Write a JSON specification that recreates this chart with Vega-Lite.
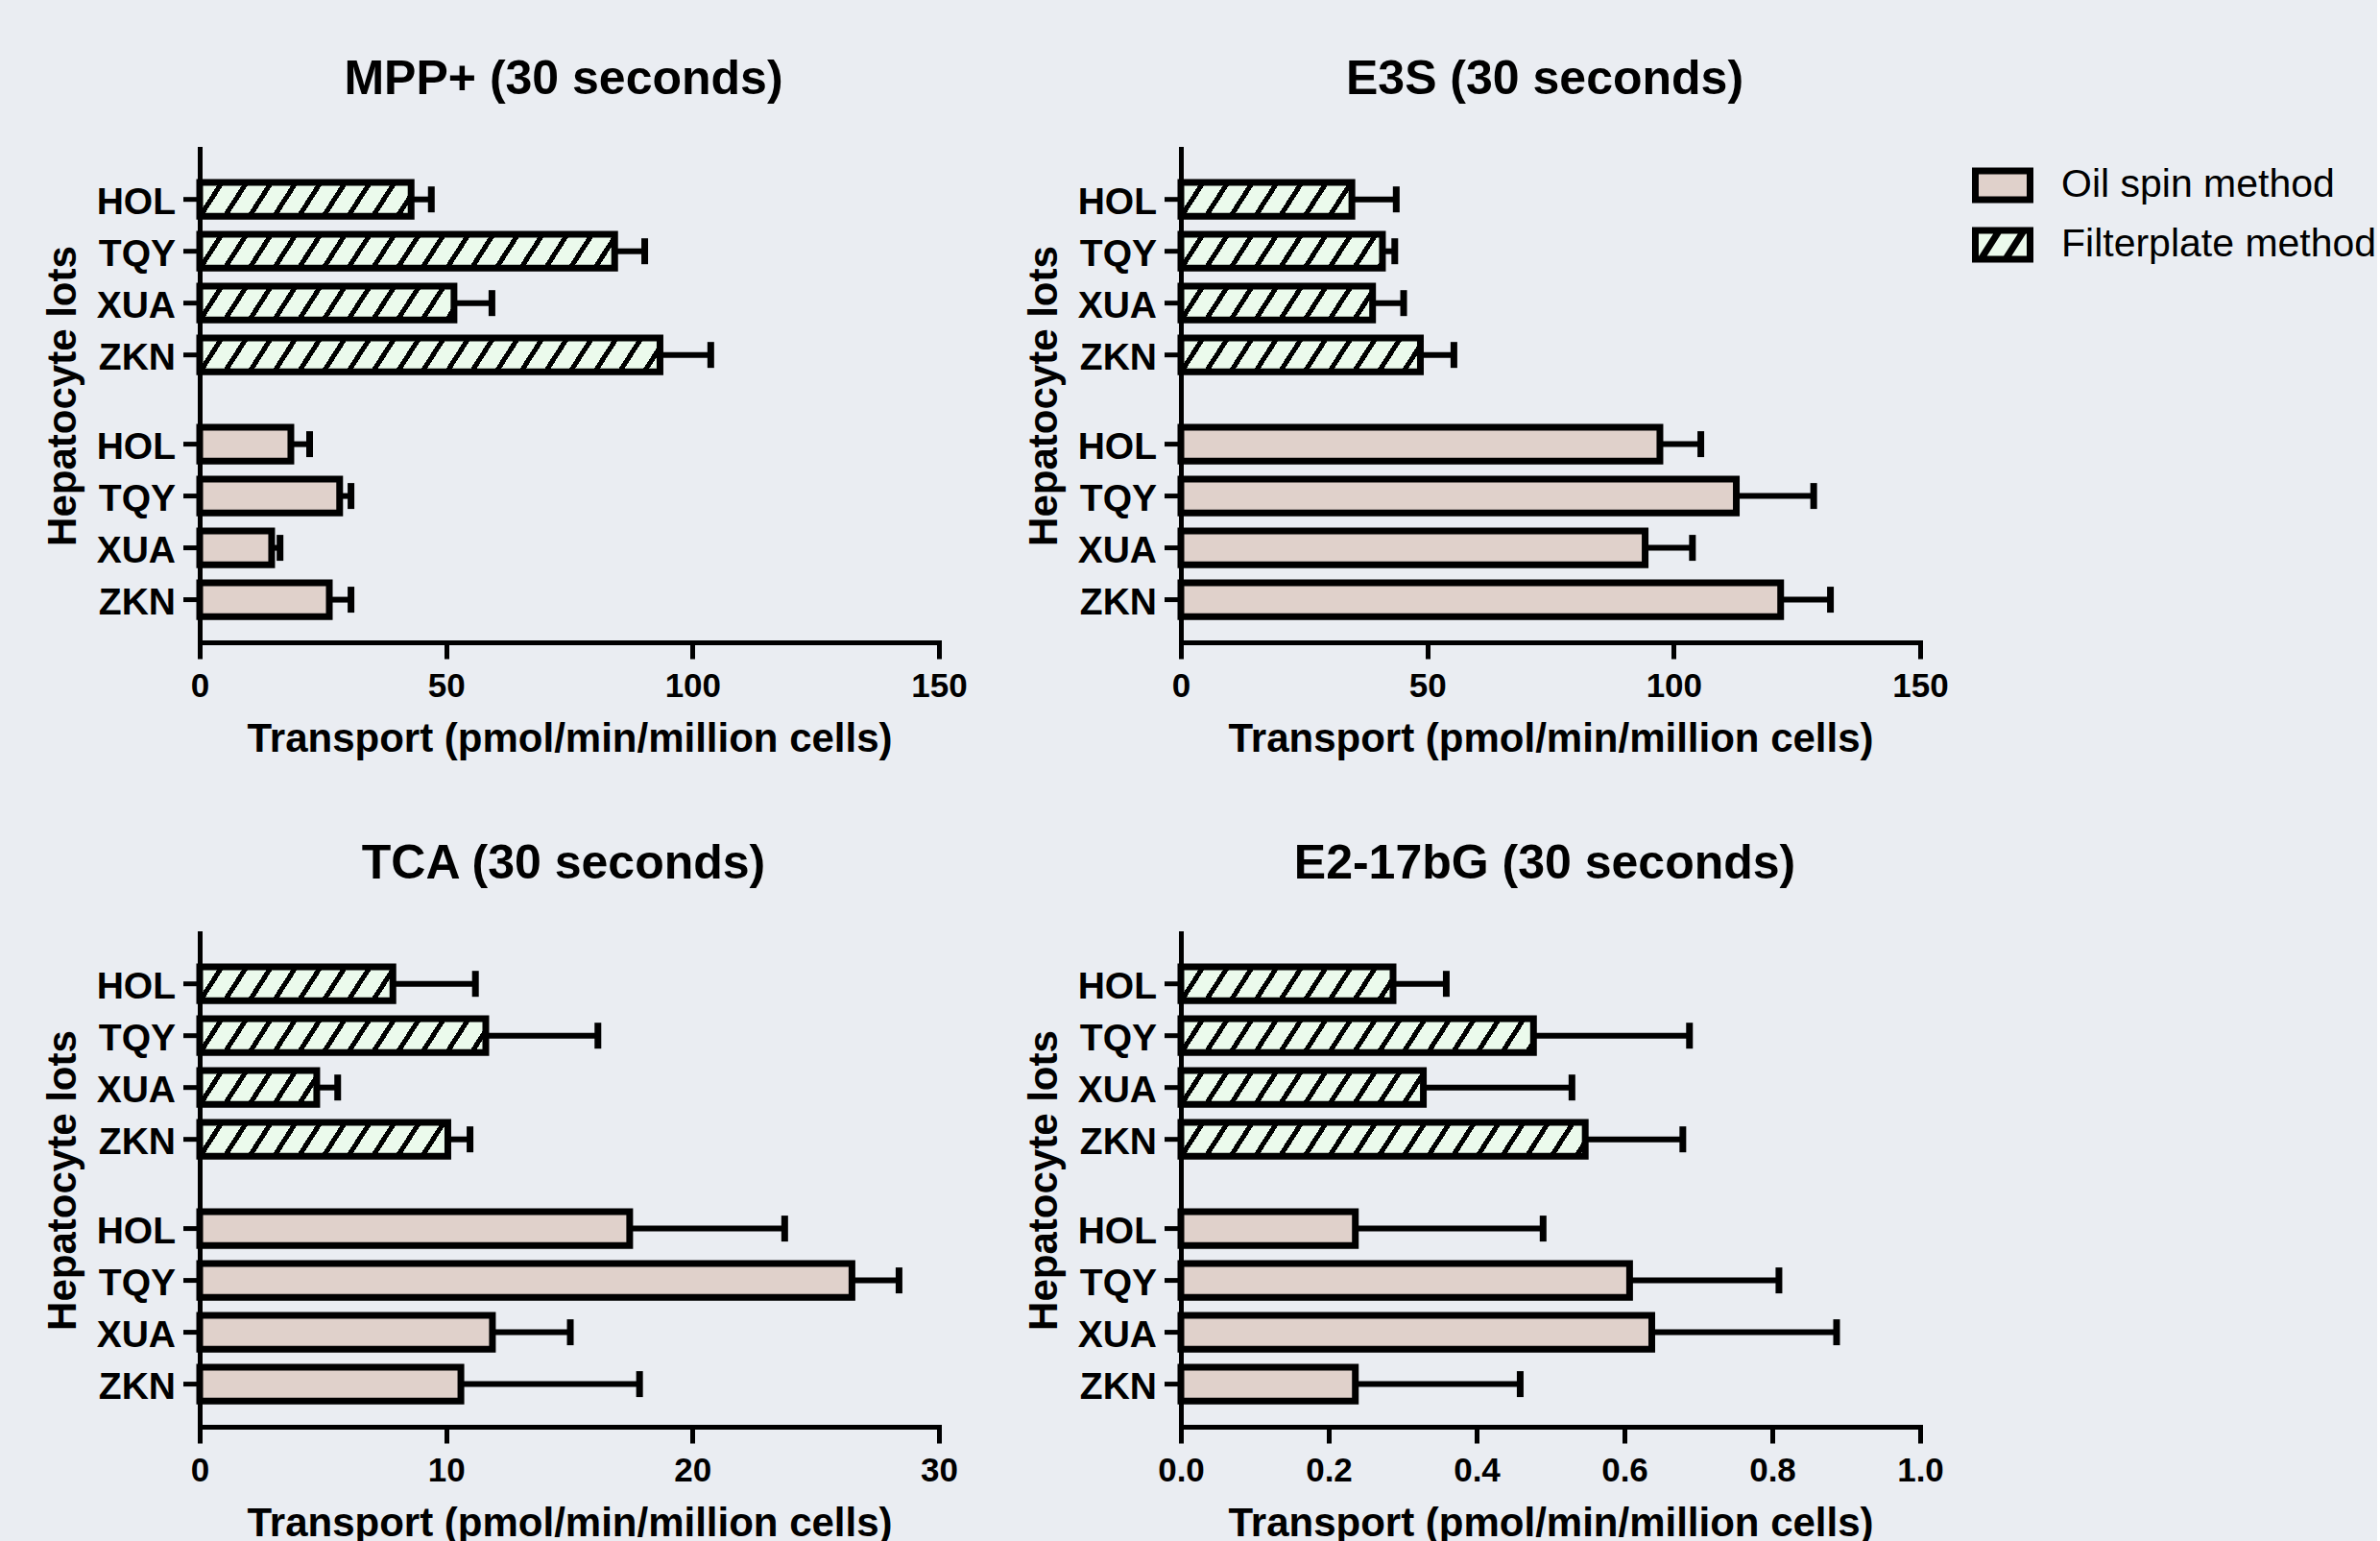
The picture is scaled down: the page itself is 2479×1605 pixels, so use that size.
{
"$schema":"https://vega.github.io/schema/vega-lite/v6.json",
"background":"#eaedf2",
"padding":{"left":44,"top":58,"right":0,"bottom":0},
"data":{"values":[
{"panel":"MPP+","method":"Filterplate method","lot":"HOL","value":42.9,"hi":47.0},
{"panel":"MPP+","method":"Filterplate method","lot":"TQY","value":84.2,"hi":90.3},
{"panel":"MPP+","method":"Filterplate method","lot":"XUA","value":51.6,"hi":59.3},
{"panel":"MPP+","method":"Filterplate method","lot":"ZKN","value":93.4,"hi":103.7},
{"panel":"MPP+","method":"Oil spin method","lot":"HOL","value":18.5,"hi":22.3},
{"panel":"MPP+","method":"Oil spin method","lot":"TQY","value":28.4,"hi":30.7},
{"panel":"MPP+","method":"Oil spin method","lot":"XUA","value":14.6,"hi":16.3},
{"panel":"MPP+","method":"Oil spin method","lot":"ZKN","value":26.3,"hi":30.7},
{"panel":"E3S","method":"Filterplate method","lot":"HOL","value":34.7,"hi":43.7},
{"panel":"E3S","method":"Filterplate method","lot":"TQY","value":40.9,"hi":43.4},
{"panel":"E3S","method":"Filterplate method","lot":"XUA","value":38.9,"hi":45.2},
{"panel":"E3S","method":"Filterplate method","lot":"ZKN","value":48.6,"hi":55.4},
{"panel":"E3S","method":"Oil spin method","lot":"HOL","value":97.2,"hi":105.5},
{"panel":"E3S","method":"Oil spin method","lot":"TQY","value":112.7,"hi":128.4},
{"panel":"E3S","method":"Oil spin method","lot":"XUA","value":94.2,"hi":103.8},
{"panel":"E3S","method":"Oil spin method","lot":"ZKN","value":121.7,"hi":131.8},
{"panel":"TCA","method":"Filterplate method","lot":"HOL","value":7.84,"hi":11.19},
{"panel":"TCA","method":"Filterplate method","lot":"TQY","value":11.61,"hi":16.16},
{"panel":"TCA","method":"Filterplate method","lot":"XUA","value":4.75,"hi":5.6},
{"panel":"TCA","method":"Filterplate method","lot":"ZKN","value":10.07,"hi":10.97},
{"panel":"TCA","method":"Oil spin method","lot":"HOL","value":17.45,"hi":23.74},
{"panel":"TCA","method":"Oil spin method","lot":"TQY","value":26.47,"hi":28.38},
{"panel":"TCA","method":"Oil spin method","lot":"XUA","value":11.88,"hi":15.04},
{"panel":"TCA","method":"Oil spin method","lot":"ZKN","value":10.6,"hi":17.85},
{"panel":"E2-17bG","method":"Filterplate method","lot":"HOL","value":0.287,"hi":0.359},
{"panel":"E2-17bG","method":"Filterplate method","lot":"TQY","value":0.477,"hi":0.688},
{"panel":"E2-17bG","method":"Filterplate method","lot":"XUA","value":0.328,"hi":0.529},
{"panel":"E2-17bG","method":"Filterplate method","lot":"ZKN","value":0.547,"hi":0.679},
{"panel":"E2-17bG","method":"Oil spin method","lot":"HOL","value":0.236,"hi":0.49},
{"panel":"E2-17bG","method":"Oil spin method","lot":"TQY","value":0.607,"hi":0.809},
{"panel":"E2-17bG","method":"Oil spin method","lot":"XUA","value":0.637,"hi":0.887},
{"panel":"E2-17bG","method":"Oil spin method","lot":"ZKN","value":0.236,"hi":0.459}
]},
"columns":2,
"spacing":{"row":303,"column":252},
"bounds":"flush",
"resolve":{"scale":{"fill":"shared","shape":"shared"},"legend":{"fill":"shared","shape":"shared"}},
"concat":[
{
"width":770,"height":514,
"title":"MPP+ (30 seconds)",
"transform":[{"filter":"datum.panel === 'MPP+'"}],
"encoding":{
"y":{"field":"method","type":"nominal","scale":{"domain":["Filterplate method","Oil spin method"],"paddingInner":0.226,"paddingOuter":0.1212,"align":0.567},"axis":{"title":"Hepatocyte lots"}},
"yOffset":{"field":"lot","type":"nominal","scale":{"domain":["HOL","TQY","XUA","ZKN"],"paddingInner":0.346,"paddingOuter":0}}
},
"layer":[
{"mark":{"type":"bar"},"encoding":{"x":{"field":"value","type":"quantitative","stack":null,"scale":{"domain":[0,150],"nice":false},"axis":{"values":[0,50,100,150],"title":"Transport (pmol/min/million cells)"}},"fill":{"field":"method","type":"nominal","scale":{"domain":["Oil spin method","Filterplate method"],"range":["#e0d1cb","#ebfaec"]},"legend":{"title":null,"symbolStrokeColor":"#000","encode":{"symbols":{"update":{"stroke":{"value":"#000"},"strokeWidth":{"value":7},"opacity":{"value":1}}}}}}}},
{"transform":[{"filter":"datum.method === 'Filterplate method'"}],"mark":{"type":"bar","strokeWidth":0,"fill":{"gradient":"linear","x1":0,"y1":0,"x2":1,"y2":0.0296,"stops":[{"offset":0,"color":"rgba(0,0,0,0)"},{"offset":0.0262,"color":"rgba(0,0,0,0)"},{"offset":0.0262,"color":"#000"},{"offset":0.034,"color":"#000"},{"offset":0.034,"color":"rgba(0,0,0,0)"},{"offset":0.0595,"color":"rgba(0,0,0,0)"},{"offset":0.0595,"color":"#000"},{"offset":0.0673,"color":"#000"},{"offset":0.0673,"color":"rgba(0,0,0,0)"},{"offset":0.0929,"color":"rgba(0,0,0,0)"},{"offset":0.0929,"color":"#000"},{"offset":0.1007,"color":"#000"},{"offset":0.1007,"color":"rgba(0,0,0,0)"},{"offset":0.1262,"color":"rgba(0,0,0,0)"},{"offset":0.1262,"color":"#000"},{"offset":0.134,"color":"#000"},{"offset":0.134,"color":"rgba(0,0,0,0)"},{"offset":0.1596,"color":"rgba(0,0,0,0)"},{"offset":0.1596,"color":"#000"},{"offset":0.1674,"color":"#000"},{"offset":0.1674,"color":"rgba(0,0,0,0)"},{"offset":0.1929,"color":"rgba(0,0,0,0)"},{"offset":0.1929,"color":"#000"},{"offset":0.2007,"color":"#000"},{"offset":0.2007,"color":"rgba(0,0,0,0)"},{"offset":0.2263,"color":"rgba(0,0,0,0)"},{"offset":0.2263,"color":"#000"},{"offset":0.2341,"color":"#000"},{"offset":0.2341,"color":"rgba(0,0,0,0)"},{"offset":0.2596,"color":"rgba(0,0,0,0)"},{"offset":0.2596,"color":"#000"},{"offset":0.2674,"color":"#000"},{"offset":0.2674,"color":"rgba(0,0,0,0)"},{"offset":0.293,"color":"rgba(0,0,0,0)"},{"offset":0.293,"color":"#000"},{"offset":0.3008,"color":"#000"},{"offset":0.3008,"color":"rgba(0,0,0,0)"},{"offset":0.3263,"color":"rgba(0,0,0,0)"},{"offset":0.3263,"color":"#000"},{"offset":0.3341,"color":"#000"},{"offset":0.3341,"color":"rgba(0,0,0,0)"},{"offset":0.3597,"color":"rgba(0,0,0,0)"},{"offset":0.3597,"color":"#000"},{"offset":0.3675,"color":"#000"},{"offset":0.3675,"color":"rgba(0,0,0,0)"},{"offset":0.393,"color":"rgba(0,0,0,0)"},{"offset":0.393,"color":"#000"},{"offset":0.4008,"color":"#000"},{"offset":0.4008,"color":"rgba(0,0,0,0)"},{"offset":0.4264,"color":"rgba(0,0,0,0)"},{"offset":0.4264,"color":"#000"},{"offset":0.4342,"color":"#000"},{"offset":0.4342,"color":"rgba(0,0,0,0)"},{"offset":0.4597,"color":"rgba(0,0,0,0)"},{"offset":0.4597,"color":"#000"},{"offset":0.4675,"color":"#000"},{"offset":0.4675,"color":"rgba(0,0,0,0)"},{"offset":0.493,"color":"rgba(0,0,0,0)"},{"offset":0.493,"color":"#000"},{"offset":0.5008,"color":"#000"},{"offset":0.5008,"color":"rgba(0,0,0,0)"},{"offset":0.5264,"color":"rgba(0,0,0,0)"},{"offset":0.5264,"color":"#000"},{"offset":0.5342,"color":"#000"},{"offset":0.5342,"color":"rgba(0,0,0,0)"},{"offset":0.5597,"color":"rgba(0,0,0,0)"},{"offset":0.5597,"color":"#000"},{"offset":0.5675,"color":"#000"},{"offset":0.5675,"color":"rgba(0,0,0,0)"},{"offset":0.5931,"color":"rgba(0,0,0,0)"},{"offset":0.5931,"color":"#000"},{"offset":0.6009,"color":"#000"},{"offset":0.6009,"color":"rgba(0,0,0,0)"},{"offset":0.6264,"color":"rgba(0,0,0,0)"},{"offset":0.6264,"color":"#000"},{"offset":0.6342,"color":"#000"},{"offset":0.6342,"color":"rgba(0,0,0,0)"},{"offset":0.6598,"color":"rgba(0,0,0,0)"},{"offset":0.6598,"color":"#000"},{"offset":0.6676,"color":"#000"},{"offset":0.6676,"color":"rgba(0,0,0,0)"},{"offset":0.6931,"color":"rgba(0,0,0,0)"},{"offset":0.6931,"color":"#000"},{"offset":0.7009,"color":"#000"},{"offset":0.7009,"color":"rgba(0,0,0,0)"},{"offset":0.7265,"color":"rgba(0,0,0,0)"},{"offset":0.7265,"color":"#000"},{"offset":0.7343,"color":"#000"},{"offset":0.7343,"color":"rgba(0,0,0,0)"},{"offset":0.7598,"color":"rgba(0,0,0,0)"},{"offset":0.7598,"color":"#000"},{"offset":0.7676,"color":"#000"},{"offset":0.7676,"color":"rgba(0,0,0,0)"},{"offset":0.7932,"color":"rgba(0,0,0,0)"},{"offset":0.7932,"color":"#000"},{"offset":0.801,"color":"#000"},{"offset":0.801,"color":"rgba(0,0,0,0)"},{"offset":0.8265,"color":"rgba(0,0,0,0)"},{"offset":0.8265,"color":"#000"},{"offset":0.8343,"color":"#000"},{"offset":0.8343,"color":"rgba(0,0,0,0)"},{"offset":0.8599,"color":"rgba(0,0,0,0)"},{"offset":0.8599,"color":"#000"},{"offset":0.8677,"color":"#000"},{"offset":0.8677,"color":"rgba(0,0,0,0)"},{"offset":0.8932,"color":"rgba(0,0,0,0)"},{"offset":0.8932,"color":"#000"},{"offset":0.901,"color":"#000"},{"offset":0.901,"color":"rgba(0,0,0,0)"},{"offset":0.9265,"color":"rgba(0,0,0,0)"},{"offset":0.9265,"color":"#000"},{"offset":0.9343,"color":"#000"},{"offset":0.9343,"color":"rgba(0,0,0,0)"},{"offset":0.9599,"color":"rgba(0,0,0,0)"},{"offset":0.9599,"color":"#000"},{"offset":0.9677,"color":"#000"},{"offset":0.9677,"color":"rgba(0,0,0,0)"},{"offset":0.9932,"color":"rgba(0,0,0,0)"},{"offset":0.9932,"color":"#000"},{"offset":1,"color":"#000"}]}},"encoding":{"x":{"datum":0,"type":"quantitative"},"x2":{"datum":150}}},
{"transform":[{"filter":"datum.method === 'Filterplate method'"}],"mark":{"type":"bar","fill":"#eaedf2","stroke":"#eaedf2","strokeWidth":2},"encoding":{"x":{"field":"value","type":"quantitative"},"x2":{"datum":150}}},
{"mark":{"type":"bar","fillOpacity":0,"stroke":"#000","strokeWidth":7,"strokeJoin":"miter"},"encoding":{"x":{"field":"value","type":"quantitative","stack":null}}},
{"mark":{"type":"rule","color":"#000","strokeWidth":6},"encoding":{"x":{"field":"value","type":"quantitative"},"x2":{"field":"hi"}}},
{"mark":{"type":"tick","color":"#000","opacity":1,"thickness":7,"size":27},"encoding":{"x":{"field":"hi","type":"quantitative"}}},
{"transform":[{"filter":"datum.value < 0"}],"mark":{"type":"point","filled":true,"stroke":"#000","strokeWidth":7,"opacity":1},"encoding":{"x":{"field":"value","type":"quantitative"},"fill":{"field":"method","type":"nominal","legend":{"title":null,"symbolStrokeColor":"#000","encode":{"symbols":{"update":{"stroke":{"value":"#000"},"strokeWidth":{"value":7},"opacity":{"value":1}}}}}},"shape":{"field":"method","type":"nominal","scale":{"domain":["Oil spin method","Filterplate method"],"range":["M-1,-0.53H1V0.53H-1Z","M-1,-0.53H1V0.53H-1Z M-0.8,0.53L-0.12,-0.53 M0.1,0.53L0.78,-0.53"]},"legend":{"title":null,"symbolStrokeColor":"#000","encode":{"symbols":{"update":{"stroke":{"value":"#000"},"strokeWidth":{"value":7},"opacity":{"value":1}}}}}}}},
{"mark":{"type":"text","align":"right","baseline":"middle","dx":-25,"dy":3,"fontSize":39,"fontWeight":"bold","color":"#000"},"encoding":{"x":{"datum":0,"type":"quantitative"},"text":{"field":"lot","type":"nominal"}}},
{"mark":{"type":"rule","color":"#000","strokeWidth":5,"xOffset":-17},"encoding":{"x":{"datum":0,"type":"quantitative"},"x2":{"datum":0}}}
]
},
{
"width":770,"height":514,
"title":"E3S (30 seconds)",
"transform":[{"filter":"datum.panel === 'E3S'"}],
"encoding":{
"y":{"field":"method","type":"nominal","scale":{"domain":["Filterplate method","Oil spin method"],"paddingInner":0.226,"paddingOuter":0.1212,"align":0.567},"axis":{"title":"Hepatocyte lots"}},
"yOffset":{"field":"lot","type":"nominal","scale":{"domain":["HOL","TQY","XUA","ZKN"],"paddingInner":0.346,"paddingOuter":0}}
},
"layer":[
{"mark":{"type":"bar"},"encoding":{"x":{"field":"value","type":"quantitative","stack":null,"scale":{"domain":[0,150],"nice":false},"axis":{"values":[0,50,100,150],"title":"Transport (pmol/min/million cells)"}},"fill":{"field":"method","type":"nominal","scale":{"domain":["Oil spin method","Filterplate method"],"range":["#e0d1cb","#ebfaec"]},"legend":{"title":null,"symbolStrokeColor":"#000","encode":{"symbols":{"update":{"stroke":{"value":"#000"},"strokeWidth":{"value":7},"opacity":{"value":1}}}}}}}},
{"transform":[{"filter":"datum.method === 'Filterplate method'"}],"mark":{"type":"bar","strokeWidth":0,"fill":{"gradient":"linear","x1":0,"y1":0,"x2":1,"y2":0.0296,"stops":[{"offset":0,"color":"rgba(0,0,0,0)"},{"offset":0.0262,"color":"rgba(0,0,0,0)"},{"offset":0.0262,"color":"#000"},{"offset":0.034,"color":"#000"},{"offset":0.034,"color":"rgba(0,0,0,0)"},{"offset":0.0595,"color":"rgba(0,0,0,0)"},{"offset":0.0595,"color":"#000"},{"offset":0.0673,"color":"#000"},{"offset":0.0673,"color":"rgba(0,0,0,0)"},{"offset":0.0929,"color":"rgba(0,0,0,0)"},{"offset":0.0929,"color":"#000"},{"offset":0.1007,"color":"#000"},{"offset":0.1007,"color":"rgba(0,0,0,0)"},{"offset":0.1262,"color":"rgba(0,0,0,0)"},{"offset":0.1262,"color":"#000"},{"offset":0.134,"color":"#000"},{"offset":0.134,"color":"rgba(0,0,0,0)"},{"offset":0.1596,"color":"rgba(0,0,0,0)"},{"offset":0.1596,"color":"#000"},{"offset":0.1674,"color":"#000"},{"offset":0.1674,"color":"rgba(0,0,0,0)"},{"offset":0.1929,"color":"rgba(0,0,0,0)"},{"offset":0.1929,"color":"#000"},{"offset":0.2007,"color":"#000"},{"offset":0.2007,"color":"rgba(0,0,0,0)"},{"offset":0.2263,"color":"rgba(0,0,0,0)"},{"offset":0.2263,"color":"#000"},{"offset":0.2341,"color":"#000"},{"offset":0.2341,"color":"rgba(0,0,0,0)"},{"offset":0.2596,"color":"rgba(0,0,0,0)"},{"offset":0.2596,"color":"#000"},{"offset":0.2674,"color":"#000"},{"offset":0.2674,"color":"rgba(0,0,0,0)"},{"offset":0.293,"color":"rgba(0,0,0,0)"},{"offset":0.293,"color":"#000"},{"offset":0.3008,"color":"#000"},{"offset":0.3008,"color":"rgba(0,0,0,0)"},{"offset":0.3263,"color":"rgba(0,0,0,0)"},{"offset":0.3263,"color":"#000"},{"offset":0.3341,"color":"#000"},{"offset":0.3341,"color":"rgba(0,0,0,0)"},{"offset":0.3597,"color":"rgba(0,0,0,0)"},{"offset":0.3597,"color":"#000"},{"offset":0.3675,"color":"#000"},{"offset":0.3675,"color":"rgba(0,0,0,0)"},{"offset":0.393,"color":"rgba(0,0,0,0)"},{"offset":0.393,"color":"#000"},{"offset":0.4008,"color":"#000"},{"offset":0.4008,"color":"rgba(0,0,0,0)"},{"offset":0.4264,"color":"rgba(0,0,0,0)"},{"offset":0.4264,"color":"#000"},{"offset":0.4342,"color":"#000"},{"offset":0.4342,"color":"rgba(0,0,0,0)"},{"offset":0.4597,"color":"rgba(0,0,0,0)"},{"offset":0.4597,"color":"#000"},{"offset":0.4675,"color":"#000"},{"offset":0.4675,"color":"rgba(0,0,0,0)"},{"offset":0.493,"color":"rgba(0,0,0,0)"},{"offset":0.493,"color":"#000"},{"offset":0.5008,"color":"#000"},{"offset":0.5008,"color":"rgba(0,0,0,0)"},{"offset":0.5264,"color":"rgba(0,0,0,0)"},{"offset":0.5264,"color":"#000"},{"offset":0.5342,"color":"#000"},{"offset":0.5342,"color":"rgba(0,0,0,0)"},{"offset":0.5597,"color":"rgba(0,0,0,0)"},{"offset":0.5597,"color":"#000"},{"offset":0.5675,"color":"#000"},{"offset":0.5675,"color":"rgba(0,0,0,0)"},{"offset":0.5931,"color":"rgba(0,0,0,0)"},{"offset":0.5931,"color":"#000"},{"offset":0.6009,"color":"#000"},{"offset":0.6009,"color":"rgba(0,0,0,0)"},{"offset":0.6264,"color":"rgba(0,0,0,0)"},{"offset":0.6264,"color":"#000"},{"offset":0.6342,"color":"#000"},{"offset":0.6342,"color":"rgba(0,0,0,0)"},{"offset":0.6598,"color":"rgba(0,0,0,0)"},{"offset":0.6598,"color":"#000"},{"offset":0.6676,"color":"#000"},{"offset":0.6676,"color":"rgba(0,0,0,0)"},{"offset":0.6931,"color":"rgba(0,0,0,0)"},{"offset":0.6931,"color":"#000"},{"offset":0.7009,"color":"#000"},{"offset":0.7009,"color":"rgba(0,0,0,0)"},{"offset":0.7265,"color":"rgba(0,0,0,0)"},{"offset":0.7265,"color":"#000"},{"offset":0.7343,"color":"#000"},{"offset":0.7343,"color":"rgba(0,0,0,0)"},{"offset":0.7598,"color":"rgba(0,0,0,0)"},{"offset":0.7598,"color":"#000"},{"offset":0.7676,"color":"#000"},{"offset":0.7676,"color":"rgba(0,0,0,0)"},{"offset":0.7932,"color":"rgba(0,0,0,0)"},{"offset":0.7932,"color":"#000"},{"offset":0.801,"color":"#000"},{"offset":0.801,"color":"rgba(0,0,0,0)"},{"offset":0.8265,"color":"rgba(0,0,0,0)"},{"offset":0.8265,"color":"#000"},{"offset":0.8343,"color":"#000"},{"offset":0.8343,"color":"rgba(0,0,0,0)"},{"offset":0.8599,"color":"rgba(0,0,0,0)"},{"offset":0.8599,"color":"#000"},{"offset":0.8677,"color":"#000"},{"offset":0.8677,"color":"rgba(0,0,0,0)"},{"offset":0.8932,"color":"rgba(0,0,0,0)"},{"offset":0.8932,"color":"#000"},{"offset":0.901,"color":"#000"},{"offset":0.901,"color":"rgba(0,0,0,0)"},{"offset":0.9265,"color":"rgba(0,0,0,0)"},{"offset":0.9265,"color":"#000"},{"offset":0.9343,"color":"#000"},{"offset":0.9343,"color":"rgba(0,0,0,0)"},{"offset":0.9599,"color":"rgba(0,0,0,0)"},{"offset":0.9599,"color":"#000"},{"offset":0.9677,"color":"#000"},{"offset":0.9677,"color":"rgba(0,0,0,0)"},{"offset":0.9932,"color":"rgba(0,0,0,0)"},{"offset":0.9932,"color":"#000"},{"offset":1,"color":"#000"}]}},"encoding":{"x":{"datum":0,"type":"quantitative"},"x2":{"datum":150}}},
{"transform":[{"filter":"datum.method === 'Filterplate method'"}],"mark":{"type":"bar","fill":"#eaedf2","stroke":"#eaedf2","strokeWidth":2},"encoding":{"x":{"field":"value","type":"quantitative"},"x2":{"datum":150}}},
{"mark":{"type":"bar","fillOpacity":0,"stroke":"#000","strokeWidth":7,"strokeJoin":"miter"},"encoding":{"x":{"field":"value","type":"quantitative","stack":null}}},
{"mark":{"type":"rule","color":"#000","strokeWidth":6},"encoding":{"x":{"field":"value","type":"quantitative"},"x2":{"field":"hi"}}},
{"mark":{"type":"tick","color":"#000","opacity":1,"thickness":7,"size":27},"encoding":{"x":{"field":"hi","type":"quantitative"}}},
{"transform":[{"filter":"datum.value < 0"}],"mark":{"type":"point","filled":true,"stroke":"#000","strokeWidth":7,"opacity":1},"encoding":{"x":{"field":"value","type":"quantitative"},"fill":{"field":"method","type":"nominal","legend":{"title":null,"symbolStrokeColor":"#000","encode":{"symbols":{"update":{"stroke":{"value":"#000"},"strokeWidth":{"value":7},"opacity":{"value":1}}}}}},"shape":{"field":"method","type":"nominal","scale":{"domain":["Oil spin method","Filterplate method"],"range":["M-1,-0.53H1V0.53H-1Z","M-1,-0.53H1V0.53H-1Z M-0.8,0.53L-0.12,-0.53 M0.1,0.53L0.78,-0.53"]},"legend":{"title":null,"symbolStrokeColor":"#000","encode":{"symbols":{"update":{"stroke":{"value":"#000"},"strokeWidth":{"value":7},"opacity":{"value":1}}}}}}}},
{"mark":{"type":"text","align":"right","baseline":"middle","dx":-25,"dy":3,"fontSize":39,"fontWeight":"bold","color":"#000"},"encoding":{"x":{"datum":0,"type":"quantitative"},"text":{"field":"lot","type":"nominal"}}},
{"mark":{"type":"rule","color":"#000","strokeWidth":5,"xOffset":-17},"encoding":{"x":{"datum":0,"type":"quantitative"},"x2":{"datum":0}}}
]
},
{
"width":770,"height":514,
"title":"TCA (30 seconds)",
"transform":[{"filter":"datum.panel === 'TCA'"}],
"encoding":{
"y":{"field":"method","type":"nominal","scale":{"domain":["Filterplate method","Oil spin method"],"paddingInner":0.226,"paddingOuter":0.1212,"align":0.567},"axis":{"title":"Hepatocyte lots"}},
"yOffset":{"field":"lot","type":"nominal","scale":{"domain":["HOL","TQY","XUA","ZKN"],"paddingInner":0.346,"paddingOuter":0}}
},
"layer":[
{"mark":{"type":"bar"},"encoding":{"x":{"field":"value","type":"quantitative","stack":null,"scale":{"domain":[0,30],"nice":false},"axis":{"values":[0,10,20,30],"title":"Transport (pmol/min/million cells)"}},"fill":{"field":"method","type":"nominal","scale":{"domain":["Oil spin method","Filterplate method"],"range":["#e0d1cb","#ebfaec"]},"legend":{"title":null,"symbolStrokeColor":"#000","encode":{"symbols":{"update":{"stroke":{"value":"#000"},"strokeWidth":{"value":7},"opacity":{"value":1}}}}}}}},
{"transform":[{"filter":"datum.method === 'Filterplate method'"}],"mark":{"type":"bar","strokeWidth":0,"fill":{"gradient":"linear","x1":0,"y1":0,"x2":1,"y2":0.0296,"stops":[{"offset":0,"color":"rgba(0,0,0,0)"},{"offset":0.0262,"color":"rgba(0,0,0,0)"},{"offset":0.0262,"color":"#000"},{"offset":0.034,"color":"#000"},{"offset":0.034,"color":"rgba(0,0,0,0)"},{"offset":0.0595,"color":"rgba(0,0,0,0)"},{"offset":0.0595,"color":"#000"},{"offset":0.0673,"color":"#000"},{"offset":0.0673,"color":"rgba(0,0,0,0)"},{"offset":0.0929,"color":"rgba(0,0,0,0)"},{"offset":0.0929,"color":"#000"},{"offset":0.1007,"color":"#000"},{"offset":0.1007,"color":"rgba(0,0,0,0)"},{"offset":0.1262,"color":"rgba(0,0,0,0)"},{"offset":0.1262,"color":"#000"},{"offset":0.134,"color":"#000"},{"offset":0.134,"color":"rgba(0,0,0,0)"},{"offset":0.1596,"color":"rgba(0,0,0,0)"},{"offset":0.1596,"color":"#000"},{"offset":0.1674,"color":"#000"},{"offset":0.1674,"color":"rgba(0,0,0,0)"},{"offset":0.1929,"color":"rgba(0,0,0,0)"},{"offset":0.1929,"color":"#000"},{"offset":0.2007,"color":"#000"},{"offset":0.2007,"color":"rgba(0,0,0,0)"},{"offset":0.2263,"color":"rgba(0,0,0,0)"},{"offset":0.2263,"color":"#000"},{"offset":0.2341,"color":"#000"},{"offset":0.2341,"color":"rgba(0,0,0,0)"},{"offset":0.2596,"color":"rgba(0,0,0,0)"},{"offset":0.2596,"color":"#000"},{"offset":0.2674,"color":"#000"},{"offset":0.2674,"color":"rgba(0,0,0,0)"},{"offset":0.293,"color":"rgba(0,0,0,0)"},{"offset":0.293,"color":"#000"},{"offset":0.3008,"color":"#000"},{"offset":0.3008,"color":"rgba(0,0,0,0)"},{"offset":0.3263,"color":"rgba(0,0,0,0)"},{"offset":0.3263,"color":"#000"},{"offset":0.3341,"color":"#000"},{"offset":0.3341,"color":"rgba(0,0,0,0)"},{"offset":0.3597,"color":"rgba(0,0,0,0)"},{"offset":0.3597,"color":"#000"},{"offset":0.3675,"color":"#000"},{"offset":0.3675,"color":"rgba(0,0,0,0)"},{"offset":0.393,"color":"rgba(0,0,0,0)"},{"offset":0.393,"color":"#000"},{"offset":0.4008,"color":"#000"},{"offset":0.4008,"color":"rgba(0,0,0,0)"},{"offset":0.4264,"color":"rgba(0,0,0,0)"},{"offset":0.4264,"color":"#000"},{"offset":0.4342,"color":"#000"},{"offset":0.4342,"color":"rgba(0,0,0,0)"},{"offset":0.4597,"color":"rgba(0,0,0,0)"},{"offset":0.4597,"color":"#000"},{"offset":0.4675,"color":"#000"},{"offset":0.4675,"color":"rgba(0,0,0,0)"},{"offset":0.493,"color":"rgba(0,0,0,0)"},{"offset":0.493,"color":"#000"},{"offset":0.5008,"color":"#000"},{"offset":0.5008,"color":"rgba(0,0,0,0)"},{"offset":0.5264,"color":"rgba(0,0,0,0)"},{"offset":0.5264,"color":"#000"},{"offset":0.5342,"color":"#000"},{"offset":0.5342,"color":"rgba(0,0,0,0)"},{"offset":0.5597,"color":"rgba(0,0,0,0)"},{"offset":0.5597,"color":"#000"},{"offset":0.5675,"color":"#000"},{"offset":0.5675,"color":"rgba(0,0,0,0)"},{"offset":0.5931,"color":"rgba(0,0,0,0)"},{"offset":0.5931,"color":"#000"},{"offset":0.6009,"color":"#000"},{"offset":0.6009,"color":"rgba(0,0,0,0)"},{"offset":0.6264,"color":"rgba(0,0,0,0)"},{"offset":0.6264,"color":"#000"},{"offset":0.6342,"color":"#000"},{"offset":0.6342,"color":"rgba(0,0,0,0)"},{"offset":0.6598,"color":"rgba(0,0,0,0)"},{"offset":0.6598,"color":"#000"},{"offset":0.6676,"color":"#000"},{"offset":0.6676,"color":"rgba(0,0,0,0)"},{"offset":0.6931,"color":"rgba(0,0,0,0)"},{"offset":0.6931,"color":"#000"},{"offset":0.7009,"color":"#000"},{"offset":0.7009,"color":"rgba(0,0,0,0)"},{"offset":0.7265,"color":"rgba(0,0,0,0)"},{"offset":0.7265,"color":"#000"},{"offset":0.7343,"color":"#000"},{"offset":0.7343,"color":"rgba(0,0,0,0)"},{"offset":0.7598,"color":"rgba(0,0,0,0)"},{"offset":0.7598,"color":"#000"},{"offset":0.7676,"color":"#000"},{"offset":0.7676,"color":"rgba(0,0,0,0)"},{"offset":0.7932,"color":"rgba(0,0,0,0)"},{"offset":0.7932,"color":"#000"},{"offset":0.801,"color":"#000"},{"offset":0.801,"color":"rgba(0,0,0,0)"},{"offset":0.8265,"color":"rgba(0,0,0,0)"},{"offset":0.8265,"color":"#000"},{"offset":0.8343,"color":"#000"},{"offset":0.8343,"color":"rgba(0,0,0,0)"},{"offset":0.8599,"color":"rgba(0,0,0,0)"},{"offset":0.8599,"color":"#000"},{"offset":0.8677,"color":"#000"},{"offset":0.8677,"color":"rgba(0,0,0,0)"},{"offset":0.8932,"color":"rgba(0,0,0,0)"},{"offset":0.8932,"color":"#000"},{"offset":0.901,"color":"#000"},{"offset":0.901,"color":"rgba(0,0,0,0)"},{"offset":0.9265,"color":"rgba(0,0,0,0)"},{"offset":0.9265,"color":"#000"},{"offset":0.9343,"color":"#000"},{"offset":0.9343,"color":"rgba(0,0,0,0)"},{"offset":0.9599,"color":"rgba(0,0,0,0)"},{"offset":0.9599,"color":"#000"},{"offset":0.9677,"color":"#000"},{"offset":0.9677,"color":"rgba(0,0,0,0)"},{"offset":0.9932,"color":"rgba(0,0,0,0)"},{"offset":0.9932,"color":"#000"},{"offset":1,"color":"#000"}]}},"encoding":{"x":{"datum":0,"type":"quantitative"},"x2":{"datum":30}}},
{"transform":[{"filter":"datum.method === 'Filterplate method'"}],"mark":{"type":"bar","fill":"#eaedf2","stroke":"#eaedf2","strokeWidth":2},"encoding":{"x":{"field":"value","type":"quantitative"},"x2":{"datum":30}}},
{"mark":{"type":"bar","fillOpacity":0,"stroke":"#000","strokeWidth":7,"strokeJoin":"miter"},"encoding":{"x":{"field":"value","type":"quantitative","stack":null}}},
{"mark":{"type":"rule","color":"#000","strokeWidth":6},"encoding":{"x":{"field":"value","type":"quantitative"},"x2":{"field":"hi"}}},
{"mark":{"type":"tick","color":"#000","opacity":1,"thickness":7,"size":27},"encoding":{"x":{"field":"hi","type":"quantitative"}}},
{"transform":[{"filter":"datum.value < 0"}],"mark":{"type":"point","filled":true,"stroke":"#000","strokeWidth":7,"opacity":1},"encoding":{"x":{"field":"value","type":"quantitative"},"fill":{"field":"method","type":"nominal","legend":{"title":null,"symbolStrokeColor":"#000","encode":{"symbols":{"update":{"stroke":{"value":"#000"},"strokeWidth":{"value":7},"opacity":{"value":1}}}}}},"shape":{"field":"method","type":"nominal","scale":{"domain":["Oil spin method","Filterplate method"],"range":["M-1,-0.53H1V0.53H-1Z","M-1,-0.53H1V0.53H-1Z M-0.8,0.53L-0.12,-0.53 M0.1,0.53L0.78,-0.53"]},"legend":{"title":null,"symbolStrokeColor":"#000","encode":{"symbols":{"update":{"stroke":{"value":"#000"},"strokeWidth":{"value":7},"opacity":{"value":1}}}}}}}},
{"mark":{"type":"text","align":"right","baseline":"middle","dx":-25,"dy":3,"fontSize":39,"fontWeight":"bold","color":"#000"},"encoding":{"x":{"datum":0,"type":"quantitative"},"text":{"field":"lot","type":"nominal"}}},
{"mark":{"type":"rule","color":"#000","strokeWidth":5,"xOffset":-17},"encoding":{"x":{"datum":0,"type":"quantitative"},"x2":{"datum":0}}}
]
},
{
"width":770,"height":514,
"title":"E2-17bG (30 seconds)",
"transform":[{"filter":"datum.panel === 'E2-17bG'"}],
"encoding":{
"y":{"field":"method","type":"nominal","scale":{"domain":["Filterplate method","Oil spin method"],"paddingInner":0.226,"paddingOuter":0.1212,"align":0.567},"axis":{"title":"Hepatocyte lots"}},
"yOffset":{"field":"lot","type":"nominal","scale":{"domain":["HOL","TQY","XUA","ZKN"],"paddingInner":0.346,"paddingOuter":0}}
},
"layer":[
{"mark":{"type":"bar"},"encoding":{"x":{"field":"value","type":"quantitative","stack":null,"scale":{"domain":[0,1],"nice":false},"axis":{"values":[0,0.2,0.4,0.6,0.8,1],"format":".1f","title":"Transport (pmol/min/million cells)"}},"fill":{"field":"method","type":"nominal","scale":{"domain":["Oil spin method","Filterplate method"],"range":["#e0d1cb","#ebfaec"]},"legend":{"title":null,"symbolStrokeColor":"#000","encode":{"symbols":{"update":{"stroke":{"value":"#000"},"strokeWidth":{"value":7},"opacity":{"value":1}}}}}}}},
{"transform":[{"filter":"datum.method === 'Filterplate method'"}],"mark":{"type":"bar","strokeWidth":0,"fill":{"gradient":"linear","x1":0,"y1":0,"x2":1,"y2":0.0296,"stops":[{"offset":0,"color":"rgba(0,0,0,0)"},{"offset":0.0262,"color":"rgba(0,0,0,0)"},{"offset":0.0262,"color":"#000"},{"offset":0.034,"color":"#000"},{"offset":0.034,"color":"rgba(0,0,0,0)"},{"offset":0.0595,"color":"rgba(0,0,0,0)"},{"offset":0.0595,"color":"#000"},{"offset":0.0673,"color":"#000"},{"offset":0.0673,"color":"rgba(0,0,0,0)"},{"offset":0.0929,"color":"rgba(0,0,0,0)"},{"offset":0.0929,"color":"#000"},{"offset":0.1007,"color":"#000"},{"offset":0.1007,"color":"rgba(0,0,0,0)"},{"offset":0.1262,"color":"rgba(0,0,0,0)"},{"offset":0.1262,"color":"#000"},{"offset":0.134,"color":"#000"},{"offset":0.134,"color":"rgba(0,0,0,0)"},{"offset":0.1596,"color":"rgba(0,0,0,0)"},{"offset":0.1596,"color":"#000"},{"offset":0.1674,"color":"#000"},{"offset":0.1674,"color":"rgba(0,0,0,0)"},{"offset":0.1929,"color":"rgba(0,0,0,0)"},{"offset":0.1929,"color":"#000"},{"offset":0.2007,"color":"#000"},{"offset":0.2007,"color":"rgba(0,0,0,0)"},{"offset":0.2263,"color":"rgba(0,0,0,0)"},{"offset":0.2263,"color":"#000"},{"offset":0.2341,"color":"#000"},{"offset":0.2341,"color":"rgba(0,0,0,0)"},{"offset":0.2596,"color":"rgba(0,0,0,0)"},{"offset":0.2596,"color":"#000"},{"offset":0.2674,"color":"#000"},{"offset":0.2674,"color":"rgba(0,0,0,0)"},{"offset":0.293,"color":"rgba(0,0,0,0)"},{"offset":0.293,"color":"#000"},{"offset":0.3008,"color":"#000"},{"offset":0.3008,"color":"rgba(0,0,0,0)"},{"offset":0.3263,"color":"rgba(0,0,0,0)"},{"offset":0.3263,"color":"#000"},{"offset":0.3341,"color":"#000"},{"offset":0.3341,"color":"rgba(0,0,0,0)"},{"offset":0.3597,"color":"rgba(0,0,0,0)"},{"offset":0.3597,"color":"#000"},{"offset":0.3675,"color":"#000"},{"offset":0.3675,"color":"rgba(0,0,0,0)"},{"offset":0.393,"color":"rgba(0,0,0,0)"},{"offset":0.393,"color":"#000"},{"offset":0.4008,"color":"#000"},{"offset":0.4008,"color":"rgba(0,0,0,0)"},{"offset":0.4264,"color":"rgba(0,0,0,0)"},{"offset":0.4264,"color":"#000"},{"offset":0.4342,"color":"#000"},{"offset":0.4342,"color":"rgba(0,0,0,0)"},{"offset":0.4597,"color":"rgba(0,0,0,0)"},{"offset":0.4597,"color":"#000"},{"offset":0.4675,"color":"#000"},{"offset":0.4675,"color":"rgba(0,0,0,0)"},{"offset":0.493,"color":"rgba(0,0,0,0)"},{"offset":0.493,"color":"#000"},{"offset":0.5008,"color":"#000"},{"offset":0.5008,"color":"rgba(0,0,0,0)"},{"offset":0.5264,"color":"rgba(0,0,0,0)"},{"offset":0.5264,"color":"#000"},{"offset":0.5342,"color":"#000"},{"offset":0.5342,"color":"rgba(0,0,0,0)"},{"offset":0.5597,"color":"rgba(0,0,0,0)"},{"offset":0.5597,"color":"#000"},{"offset":0.5675,"color":"#000"},{"offset":0.5675,"color":"rgba(0,0,0,0)"},{"offset":0.5931,"color":"rgba(0,0,0,0)"},{"offset":0.5931,"color":"#000"},{"offset":0.6009,"color":"#000"},{"offset":0.6009,"color":"rgba(0,0,0,0)"},{"offset":0.6264,"color":"rgba(0,0,0,0)"},{"offset":0.6264,"color":"#000"},{"offset":0.6342,"color":"#000"},{"offset":0.6342,"color":"rgba(0,0,0,0)"},{"offset":0.6598,"color":"rgba(0,0,0,0)"},{"offset":0.6598,"color":"#000"},{"offset":0.6676,"color":"#000"},{"offset":0.6676,"color":"rgba(0,0,0,0)"},{"offset":0.6931,"color":"rgba(0,0,0,0)"},{"offset":0.6931,"color":"#000"},{"offset":0.7009,"color":"#000"},{"offset":0.7009,"color":"rgba(0,0,0,0)"},{"offset":0.7265,"color":"rgba(0,0,0,0)"},{"offset":0.7265,"color":"#000"},{"offset":0.7343,"color":"#000"},{"offset":0.7343,"color":"rgba(0,0,0,0)"},{"offset":0.7598,"color":"rgba(0,0,0,0)"},{"offset":0.7598,"color":"#000"},{"offset":0.7676,"color":"#000"},{"offset":0.7676,"color":"rgba(0,0,0,0)"},{"offset":0.7932,"color":"rgba(0,0,0,0)"},{"offset":0.7932,"color":"#000"},{"offset":0.801,"color":"#000"},{"offset":0.801,"color":"rgba(0,0,0,0)"},{"offset":0.8265,"color":"rgba(0,0,0,0)"},{"offset":0.8265,"color":"#000"},{"offset":0.8343,"color":"#000"},{"offset":0.8343,"color":"rgba(0,0,0,0)"},{"offset":0.8599,"color":"rgba(0,0,0,0)"},{"offset":0.8599,"color":"#000"},{"offset":0.8677,"color":"#000"},{"offset":0.8677,"color":"rgba(0,0,0,0)"},{"offset":0.8932,"color":"rgba(0,0,0,0)"},{"offset":0.8932,"color":"#000"},{"offset":0.901,"color":"#000"},{"offset":0.901,"color":"rgba(0,0,0,0)"},{"offset":0.9265,"color":"rgba(0,0,0,0)"},{"offset":0.9265,"color":"#000"},{"offset":0.9343,"color":"#000"},{"offset":0.9343,"color":"rgba(0,0,0,0)"},{"offset":0.9599,"color":"rgba(0,0,0,0)"},{"offset":0.9599,"color":"#000"},{"offset":0.9677,"color":"#000"},{"offset":0.9677,"color":"rgba(0,0,0,0)"},{"offset":0.9932,"color":"rgba(0,0,0,0)"},{"offset":0.9932,"color":"#000"},{"offset":1,"color":"#000"}]}},"encoding":{"x":{"datum":0,"type":"quantitative"},"x2":{"datum":1}}},
{"transform":[{"filter":"datum.method === 'Filterplate method'"}],"mark":{"type":"bar","fill":"#eaedf2","stroke":"#eaedf2","strokeWidth":2},"encoding":{"x":{"field":"value","type":"quantitative"},"x2":{"datum":1}}},
{"mark":{"type":"bar","fillOpacity":0,"stroke":"#000","strokeWidth":7,"strokeJoin":"miter"},"encoding":{"x":{"field":"value","type":"quantitative","stack":null}}},
{"mark":{"type":"rule","color":"#000","strokeWidth":6},"encoding":{"x":{"field":"value","type":"quantitative"},"x2":{"field":"hi"}}},
{"mark":{"type":"tick","color":"#000","opacity":1,"thickness":7,"size":27},"encoding":{"x":{"field":"hi","type":"quantitative"}}},
{"transform":[{"filter":"datum.value < 0"}],"mark":{"type":"point","filled":true,"stroke":"#000","strokeWidth":7,"opacity":1},"encoding":{"x":{"field":"value","type":"quantitative"},"fill":{"field":"method","type":"nominal","legend":{"title":null,"symbolStrokeColor":"#000","encode":{"symbols":{"update":{"stroke":{"value":"#000"},"strokeWidth":{"value":7},"opacity":{"value":1}}}}}},"shape":{"field":"method","type":"nominal","scale":{"domain":["Oil spin method","Filterplate method"],"range":["M-1,-0.53H1V0.53H-1Z","M-1,-0.53H1V0.53H-1Z M-0.8,0.53L-0.12,-0.53 M0.1,0.53L0.78,-0.53"]},"legend":{"title":null,"symbolStrokeColor":"#000","encode":{"symbols":{"update":{"stroke":{"value":"#000"},"strokeWidth":{"value":7},"opacity":{"value":1}}}}}}}},
{"mark":{"type":"text","align":"right","baseline":"middle","dx":-25,"dy":3,"fontSize":39,"fontWeight":"bold","color":"#000"},"encoding":{"x":{"datum":0,"type":"quantitative"},"text":{"field":"lot","type":"nominal"}}},
{"mark":{"type":"rule","color":"#000","strokeWidth":5,"xOffset":-17},"encoding":{"x":{"datum":0,"type":"quantitative"},"x2":{"datum":0}}}
]
}
],
"config":{
"font":"Liberation Sans",
"view":{"stroke":null},
"axis":{"domainColor":"#000","domainWidth":5,"domainCap":"square","tickColor":"#000","tickWidth":5,"tickSize":17,"labelColor":"#000","labelFont":"Liberation Sans","labelFontSize":35,"labelFontWeight":"bold","titleColor":"#000","titleFont":"Liberation Sans","titleFontSize":42,"titleFontWeight":"bold","grid":false},
"axisX":{"labelBaseline":"alphabetic","labelPadding":39,"labelFlush":false,"labelOverlap":false,"titleBaseline":"alphabetic","titlePadding":50},
"axisY":{"labels":false,"ticks":false,"titleBaseline":"alphabetic","titlePadding":129.5},
"title":{"font":"Liberation Sans","fontSize":50,"fontWeight":"bold","color":"#000","baseline":"alphabetic","offset":47,"dx":-6,"anchor":"middle"},
"legend":{"orient":"none","legendX":1846,"legendY":6,"padding":0,"symbolSize":3249,"symbolStrokeColor":"#000","symbolStrokeWidth":7,"symbolOpacity":1,"labelFont":"Liberation Sans","labelFontSize":41,"labelColor":"#000","labelOffset":29,"rowPadding":-5,"labelLimit":1000}
}
}
